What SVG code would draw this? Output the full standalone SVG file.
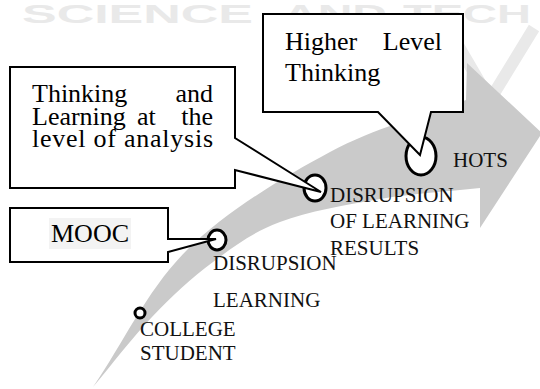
<svg xmlns="http://www.w3.org/2000/svg" width="540" height="389" viewBox="0 0 540 389">
<style>
.wm{font-family:"Liberation Sans",Arial,sans-serif;font-weight:bold;font-size:25px;fill:#e9e9e9}
.box{fill:#fff;stroke:#000;stroke-width:2}
.dot{fill:#fff;stroke:#000;stroke-width:3}
.ct{font-family:"Liberation Serif","Times New Roman",serif;font-size:26px;fill:#000}
.lb{font-family:"Liberation Serif","Times New Roman",serif;font-size:21px;fill:#111}
</style>
<rect width="540" height="389" fill="#fff"/>
<g id="watermark">
<text class="wm" x="22" y="23" textLength="231" lengthAdjust="spacingAndGlyphs">SCIENCE</text>
<text class="wm" x="283" y="23" textLength="104" lengthAdjust="spacingAndGlyphs">AND</text>
<text class="wm" x="403" y="23" textLength="128" lengthAdjust="spacingAndGlyphs">TECH</text>
<polyline points="448,28 490,100 534,28" fill="none" stroke="#e9e9e9" stroke-width="12"/>
</g>
<g id="connectors">
<path d="M93,387 C124.3,341.3 147.5,289.2 187,250 C226.5,210.8 283.5,177 330,152 C376.5,127 420.7,117.3 466,100 L467,63 L542,133 L480,228 L480,188 C446.7,191.7 413.3,193.3 380,199 C346.7,204.7 307.8,211.5 280,222 C252.2,232.5 234.3,246.2 213,262 C191.7,277.8 172,296.2 152,317 C132,337.8 112.7,363.7 93,387 Z" fill="#cacaca"/>
</g>
<g id="node-college">
<circle class="dot" cx="140" cy="313" r="5" stroke-width="2.5"/>
<text class="lb" x="140" y="336">COLLEGE</text>
<text class="lb" x="140" y="360">STUDENT</text>
</g>
<g id="node-disruption-learning">
<ellipse class="dot" cx="217" cy="240" rx="9" ry="10"/>
<text class="lb" x="213" y="270">DISRUPSION</text>
<text class="lb" x="213" y="307">LEARNING</text>
</g>
<g id="node-disruption-results">
<ellipse class="dot" cx="315" cy="188" rx="11" ry="13"/>
<text class="lb" x="330" y="202">DISRUPSION</text>
<text class="lb" x="330" y="228">OF LEARNING</text>
<text class="lb" x="330" y="255">RESULTS</text>
</g>
<g id="node-hots">
<ellipse class="dot" cx="421" cy="156" rx="15" ry="19"/>
<text class="lb" x="453" y="167">HOTS</text>
</g>
<g id="callout-mooc">
<path class="box" d="M10,208 H168 V239 L216,239 L168,252 V262 H10 Z"/>
<rect x="49" y="218" width="82" height="31" fill="#f3f3f3"/>
<text class="ct" x="51" y="242">MOOC</text>
</g>
<g id="callout-analysis">
<path class="box" d="M10,67 H235 V138 L321,192 L235,170 V188 H10 Z"/>
<text class="ct" x="32" y="102">Thinking</text>
<text class="ct" x="213" y="102" text-anchor="end">and</text>
<text class="ct" x="32" y="125">Learning</text>
<text class="ct" x="137" y="125">at</text>
<text class="ct" x="213" y="125" text-anchor="end">the</text>
<text class="ct" x="32" y="147" textLength="181" lengthAdjust="spacing">level of analysis</text>
</g>
<g id="callout-higher">
<path class="box" d="M263,14 H463 V112 H431 L420,155 L378,112 H263 Z"/>
<text class="ct" x="285" y="50">Higher</text>
<text class="ct" x="442" y="50" text-anchor="end">Level</text>
<text class="ct" x="285" y="81">Thinking</text>
</g>
</svg>
